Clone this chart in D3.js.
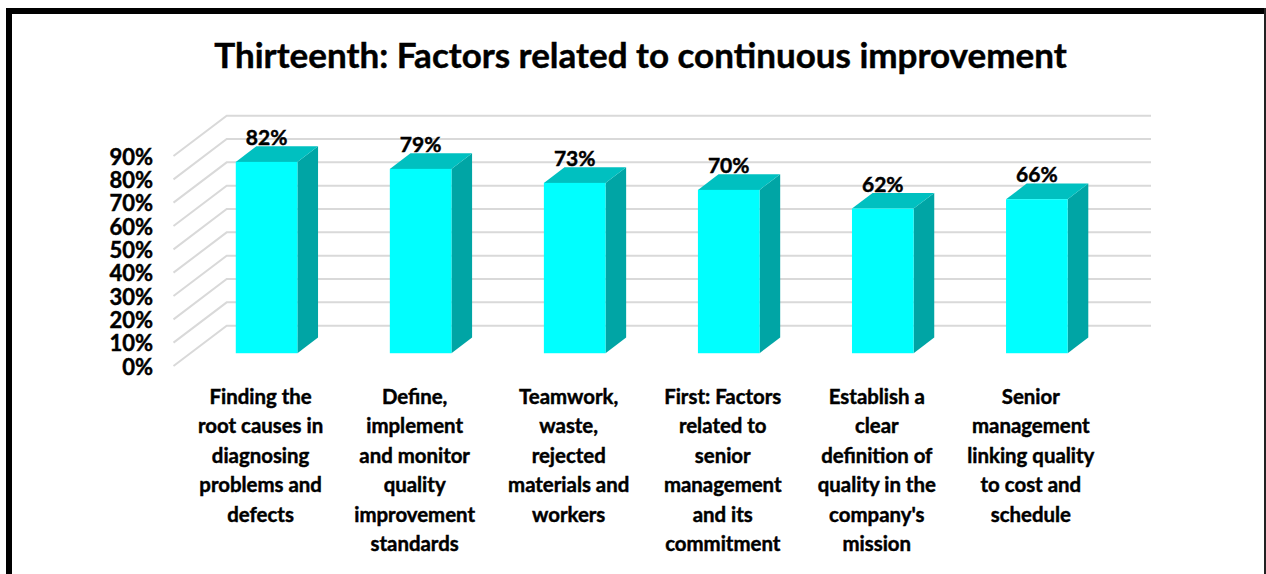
<!DOCTYPE html>
<html><head><meta charset="utf-8">
<script src="https://d3js.org/d3.v7.min.js"></script>
<style>html,body{margin:0;padding:0;background:#fff}svg{display:block}text{font-family:Lato,Carlito,sans-serif;font-weight:700;fill:#000;stroke:#000;stroke-width:.45px}</style>
</head><body><svg id="c" width="1266" height="574"></svg>
<script>
const categories=[
 ["Finding the","root causes in","diagnosing","problems and","defects"],
 ["Define,","implement","and monitor","quality","improvement","standards"],
 ["Teamwork,","waste,","rejected","materials and","workers"],
 ["First: Factors","related to","senior","management","and its","commitment"],
 ["Establish a","clear","definition of","quality in the","company's","mission"],
 ["Senior","management","linking quality","to cost and","schedule"]];
const values=[0.82,0.79,0.73,0.70,0.62,0.66];
const ticks=[0,0.1,0.2,0.3,0.4,0.5,0.6,0.7,0.8,0.9];
const title="Thirteenth: Factors related to continuous improvement";

const svg=d3.select("#c");
const fmt=d3.format(".0%");
// depth of the 3D box: front floor edge -> back wall
const depthX=53.2, depthY=40.3;
const barT=0.317, barDepth=0.388;
const yBack=d3.scaleLinear().domain([0,0.9]).range([325.7,115.7]);
const yAt=t=>v=>yBack(v)+depthY*(1-t);
const barShift=0.8;
const xBar=d3.scaleBand().domain(d3.range(6)).range([226.7-depthX*(1-barT)-barShift,1151-depthX*(1-barT)-barShift]).paddingInner(0.6).paddingOuter(0.3);

// frame: heavy top and left, thin right, open at the bottom
const frame=svg.append("g").attr("fill","#000");
frame.append("rect").attr("x",6).attr("y",8).attr("width",1260).attr("height",6);
frame.append("rect").attr("x",6).attr("y",8).attr("width",6).attr("height",566);
frame.append("rect").attr("x",1264).attr("y",8).attr("width",2).attr("height",566).attr("fill","#222");

svg.append("text").attr("x",640.5).attr("y",68).attr("text-anchor","middle").attr("font-size",35).text(title);

const grid=svg.append("g").attr("fill","none").attr("stroke","#d9d9d9").attr("stroke-width",2);
ticks.forEach(v=>{
  const yb=yBack(v);
  grid.append("path").attr("d",d3.line()([[226.7-depthX,yb+depthY],[226.7,yb],[1151,yb]]));
});

const yFront=yAt(0);
svg.append("g").selectAll("text").data(ticks).join("text")
 .attr("x",153).attr("y",d=>yFront(d)+8.6).attr("text-anchor","end").attr("font-size",22).text(fmt);

const yF=yAt(barT);
const dx=depthX*barDepth, dy=depthY*barDepth;
const bars=svg.append("g").selectAll("g").data(values).join("g");
bars.append("path").attr("fill","#00a5a5").attr("d",(d,i)=>{
  const x=xBar(i)+xBar.bandwidth();
  return d3.line()([[x,yF(d)],[x+dx,yF(d)-dy],[x+dx,yF(0)-dy],[x,yF(0)]])+"Z";});
bars.append("path").attr("fill","#00c0c0").attr("d",(d,i)=>{
  const x=xBar(i),w=xBar.bandwidth();
  return d3.line()([[x,yF(d)],[x+dx,yF(d)-dy],[x+w+dx,yF(d)-dy],[x+w,yF(d)]])+"Z";});
bars.append("rect").attr("fill","#00ffff").attr("x",(d,i)=>xBar(i)).attr("y",d=>yF(d)).attr("width",xBar.bandwidth()).attr("height",d=>yF(0)-yF(d));
bars.append("text").attr("text-anchor","middle").attr("font-size",21)
 .attr("x",(d,i)=>xBar(i)+xBar.bandwidth()/2).attr("y",d=>yF(d)-17).text(fmt);

const cat=svg.append("g").selectAll("text").data(categories).join("text")
 .attr("text-anchor","middle").attr("font-size",20.4);
cat.each(function(lines,i){
  d3.select(this).selectAll("tspan").data(lines).join("tspan")
   .attr("x",xBar(i)+xBar.bandwidth()/2-6).attr("y",(l,j)=>404+j*29.4).text(l=>l);
});
</script></body></html>
